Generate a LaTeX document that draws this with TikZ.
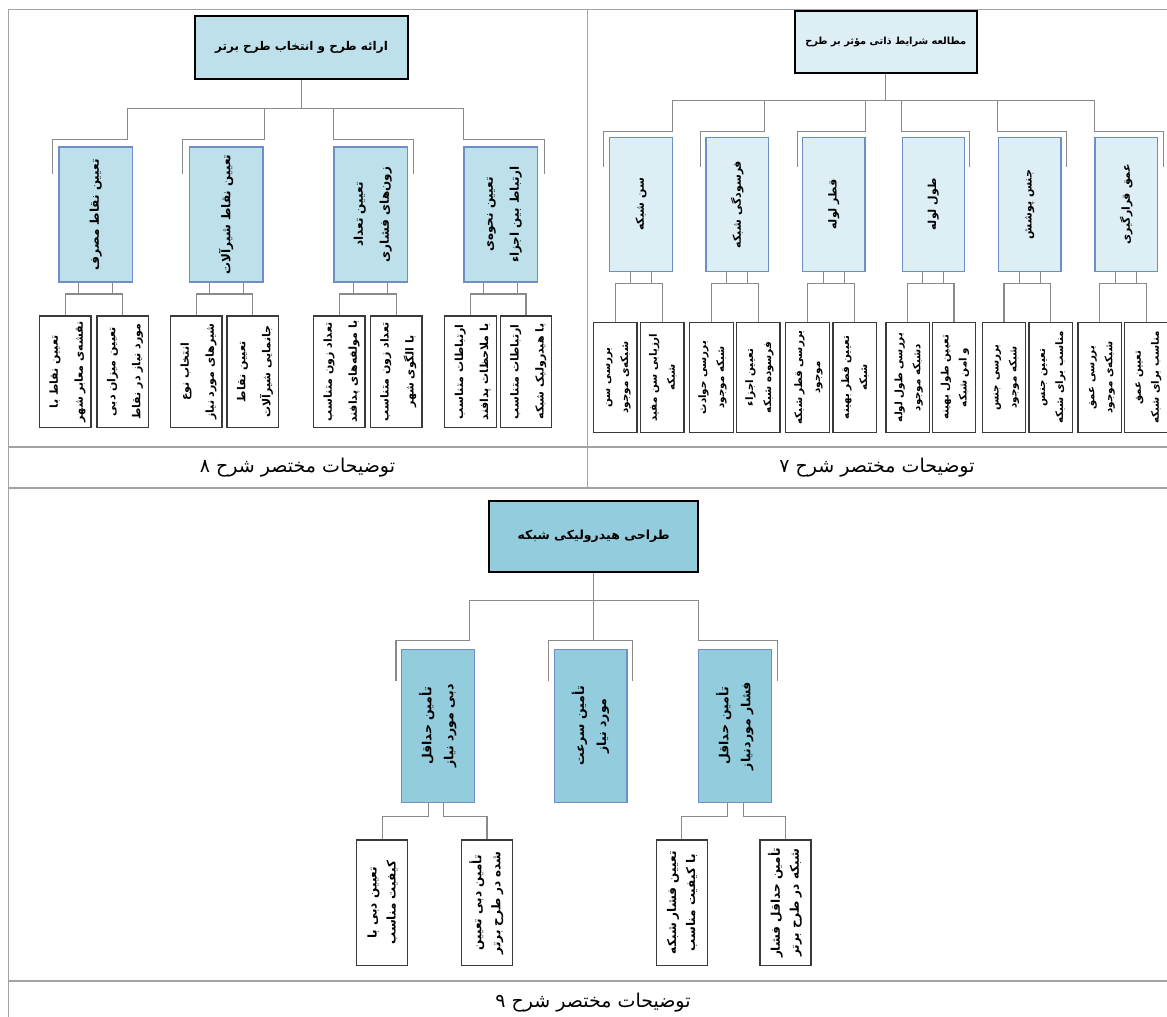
\documentclass[tikz,border=0pt]{standalone}
\usepackage{fontspec}
\usepackage{graphicx}
\usetikzlibrary{calc}
\newfontfamily\arabicfont[Script=Arabic]{DejaVu Sans}
\TeXXeTstate=1
\definecolor{gridgray}{HTML}{A3A3A3}
\definecolor{linkgray}{HTML}{8A8A8A}
\definecolor{paleblue}{HTML}{BEE0EA}
\definecolor{iceblue}{HTML}{DDEEF5}
\definecolor{seablue}{HTML}{93CDDD}
\definecolor{edgeblue}{HTML}{6D8FC2}
\definecolor{leafedge}{HTML}{3A3A3A}
\newcommand{\vone}[1]{\rotatebox{90}{#1}}
\newcommand{\vtwo}[2]{\rotatebox{90}{\begin{tabular}{@{}c@{}}#1\\#2\end{tabular}}}

\begin{document}
\begin{tikzpicture}[x=1pt,y=-1pt,
    rule/.style={draw=gridgray,line width=1.3pt},
    link/.style={draw=linkgray,line width=1.1pt},
    head/.style={draw=black,line width=2pt,inner sep=0pt},
    part/.style={draw=edgeblue,line width=1.3pt,inner sep=0pt},
    item/.style={draw=leafedge,line width=1.4pt,fill=white,inner sep=0pt},
    part8/.style={part,fill=paleblue,minimum width=73.5pt,minimum height=135pt,font=\arabicfont\bfseries\fontsize{12}{26}\selectfont},
    item8/.style={item,minimum width=51.5pt,minimum height=111.3pt,font=\arabicfont\bfseries\fontsize{11}{25}\selectfont},
    part7/.style={part,fill=iceblue,minimum width=62.5pt,minimum height=134.4pt,font=\arabicfont\bfseries\fontsize{11}{20}\selectfont},
    item7/.style={item,minimum width=43.5pt,minimum height=109.6pt,font=\arabicfont\bfseries\fontsize{10.3}{18}\selectfont},
    part9/.style={part,fill=seablue,minimum width=72.5pt,minimum height=153.4pt,font=\arabicfont\bfseries\fontsize{12.5}{22}\selectfont},
    item9/.style={item,minimum width=51pt,minimum height=125.7pt,font=\arabicfont\bfseries\fontsize{12}{19}\selectfont},
    note/.style={font=\arabicfont\fontsize{19}{22}\selectfont}]
  \useasboundingbox (0,0) rectangle (1167,1017);

  \draw[rule] (1167,9.3) -- (8.3,9.3) -- (8.3,1017);
  \draw[rule] (587.7,9.3) -- (587.7,488);
  \foreach \y in {447,488,981}
    \draw[rule] (8.3,\y) -- (1167,\y);

  % sharh 8
  \node[head,fill=paleblue,minimum width=213pt,minimum height=63.6pt,
        font=\arabicfont\bfseries\fontsize{12}{14}\selectfont] (r8) at (301.5,47.5) {\beginR ارائه طرح و انتخاب طرح برتر\endR};
  \node[part8] (a1) at (95.75,214.5) {\vone{\beginR تعیین نقاط مصرف\endR}};
  \node[part8] (a2) at (226.2,214.5) {\vone{\beginR تعیین نقاط شیرآلات\endR}};
  \node[part8] (a3) at (370.7,214.5) {\vtwo{\beginR تعیین تعداد\endR}{\beginR زون‌های فشاری\endR}};
  \node[part8] (a4) at (500.7,214.5) {\vtwo{\beginR تعیین نحوه‌ی\endR}{\beginR ارتباط بین اجزاء\endR}};
  \node[item8] (l1a) at (65.3,371.7) {\vtwo{\beginR تعیین نقاط با\endR}{\beginR نقشه‌ی معابر شهر\endR}};
  \node[item8] (l1b) at (122.9,371.7) {\vtwo{\beginR تعیین میزان دبی\endR}{\beginR مورد نیاز در نقاط\endR}};
  \node[item8] (l2a) at (196.3,371.7) {\vtwo{\beginR انتخاب نوع\endR}{\beginR شیرهای مورد نیاز\endR}};
  \node[item8] (l2b) at (252.8,371.7) {\vtwo{\beginR تعیین نقاط\endR}{\beginR جانمایی شیرآلات\endR}};
  \node[item8] (l3a) at (339.3,371.7) {\vtwo{\beginR تعداد زون متناسب\endR}{\beginR با مولفه‌های پدافند\endR}};
  \node[item8] (l3b) at (396.1,371.7) {\vtwo{\beginR تعداد زون متناسب\endR}{\beginR با الگوی شهر\endR}};
  \node[item8] (l4a) at (470.5,371.7) {\vtwo{\beginR ارتباطات متناسب\endR}{\beginR با ملاحظات پدافند\endR}};
  \node[item8] (l4b) at (526,371.7) {\vtwo{\beginR ارتباطات متناسب\endR}{\beginR با هیدرولیک شبکه\endR}};
  \draw[link] (r8.south) -- ++(0,28) -| ($(a1.north east)+(-6,-7)$) -| ($(a1.north west)+(-6,28)$);
  \draw[link] (r8.south) -- ++(0,28) -| ($(a2.north east)+(1,-7)$) -| ($(a2.north west)+(-6,28)$);
  \draw[link] (r8.south) -- ++(0,28) -| ($(a3.north west)+(0,-7)$) -| ($(a3.north east)+(5,28)$);
  \draw[link] (r8.south) -- ++(0,28) -| ($(a4.north west)+(0,-7)$) -| ($(a4.north east)+(6,28)$);
  \foreach \p in {1,...,4}{
    \draw[link] ($(a\p.south)+(-17,0)$) -- ++(0,11.3);
    \draw[link] ($(a\p.south)+(17,0)$) -- ++(0,11.3);
    \draw[link] (l\p a.north) |- ($(a\p.south)+(0,11.3)$) -| (l\p b.north);
  }
  \node[note] (cap8) at (297.5,468) {\beginR توضیحات مختصر شرح ۸\endR};

  % sharh 7
  \node[head,fill=iceblue,minimum width=181.5pt,minimum height=62pt,
        font=\arabicfont\bfseries\fontsize{9.8}{12}\selectfont] (r7) at (885.75,41.7) {\beginR مطالعه شرایط ذاتی مؤثر بر طرح\endR};
  \node[part7] (b1) at (641,204.5) {\vone{\beginR سن شبکه\endR}};
  \node[part7] (b2) at (737.3,204.5) {\vone{\beginR فرسودگی شبکه\endR}};
  \node[part7] (b3) at (833.7,204.5) {\vone{\beginR قطر لوله\endR}};
  \node[part7] (b4) at (933.4,204.5) {\vone{\beginR طول لوله\endR}};
  \node[part7] (b5) at (1029.8,204.5) {\vone{\beginR جنس پوشش\endR}};
  \node[part7] (b6) at (1126.3,204.5) {\vone{\beginR عمق قرارگیری\endR}};
  \node[item7] (m1a) at (615.4,377.5) {\vtwo{\beginR بررسی سن\endR}{\beginR شبکه‌ی موجود\endR}};
  \node[item7] (m1b) at (662.2,377.5) {\vtwo{\beginR ارزیابی سن مفید\endR}{\beginR شبکه\endR}};
  \node[item7] (m2a) at (711.5,377.5) {\vtwo{\beginR بررسی حوادث\endR}{\beginR شبکه موجود\endR}};
  \node[item7] (m2b) at (758.4,377.5) {\vtwo{\beginR تعیین اجزاء\endR}{\beginR فرسوده شبکه\endR}};
  \node[item7] (m3a) at (807.5,377.5) {\vtwo{\beginR بررسی قطر شبکه\endR}{\beginR موجود\endR}};
  \node[item7] (m3b) at (854.6,377.5) {\vtwo{\beginR تعیین قطر بهینه\endR}{\beginR شبکه\endR}};
  \node[item7] (m4a) at (907.8,377.5) {\vtwo{\beginR بررسی طول لوله\endR}{\beginR دشبکه موجود\endR}};
  \node[item7] (m4b) at (954,377.5) {\vtwo{\beginR تعیین طول بهینه\endR}{\beginR و امن شبکه\endR}};
  \node[item7] (m5a) at (1004,377.5) {\vtwo{\beginR بررسی جنس\endR}{\beginR شبکه موجود\endR}};
  \node[item7] (m5b) at (1050.6,377.5) {\vtwo{\beginR تعیین جنس\endR}{\beginR مناسب برای شبکه\endR}};
  \node[item7] (m6a) at (1099.8,377.5) {\vtwo{\beginR بررسی عمق\endR}{\beginR شبکه‌ی موجود\endR}};
  \node[item7] (m6b) at (1146.3,377.5) {\vtwo{\beginR تعیین عمق\endR}{\beginR مناسب برای شبکه\endR}};
  \foreach \c/\dx/\tx in {1/0/-5.5,2/-5/-4.5,3/0/-4.4}
    \draw[link] (r7.south) -- ++(0,26.6) -| ($(b\c.north east)+(\dx,-5.6)$) -| ($(b\c.north west)+(\tx,30)$);
  \foreach \c/\tx in {4/4.3,5/4.5,6/5.5}
    \draw[link] (r7.south) -- ++(0,26.6) -| ($(b\c.north west)+(0,-5.6)$) -| ($(b\c.north east)+(\tx,30)$);
  \foreach \p in {1,...,6}{
    \draw[link] ($(b\p.south)+(-10.5,0)$) -- ++(0,11);
    \draw[link] ($(b\p.south)+(10.5,0)$) -- ++(0,11);
    \draw[link] (m\p a.north) |- ($(b\p.south)+(0,11)$) -| (m\p b.north);
  }
  \node[note] (cap7) at (877,468) {\beginR توضیحات مختصر شرح ۷\endR};

  % sharh 9
  \node[head,fill=seablue,minimum width=209.3pt,minimum height=71.3pt,
        font=\arabicfont\bfseries\fontsize{12.5}{15}\selectfont] (r9) at (593.7,536.7) {\beginR طراحی هیدرولیکی شبکه\endR};
  \node[part9] (d1) at (437.9,726) {\vtwo{\beginR تأمین حداقل\endR}{\beginR دبی مورد نیاز\endR}};
  \node[part9] (d2) at (590.8,726) {\vtwo{\beginR تأمین سرعت\endR}{\beginR مورد نیاز\endR}};
  \node[part9] (d3) at (735,726) {\vtwo{\beginR تأمین حداقل\endR}{\beginR فشار موردنیاز\endR}};
  \node[item9] (e1a) at (382.2,902.8) {\vtwo{\beginR تعیین دبی با\endR}{\beginR کیفیت مناسب\endR}};
  \node[item9] (e1b) at (487,902.8) {\vtwo{\beginR تأمین دبی تعیین\endR}{\beginR شده در طرح برتر\endR}};
  \node[item9] (e3a) at (681.7,902.8) {\vtwo{\beginR تعیین فشار شبکه\endR}{\beginR با کیفیت مناسب\endR}};
  \node[item9] (e3b) at (785.5,902.8) {\vtwo{\beginR تأمین حداقل فشار\endR}{\beginR شبکه در طرح برتر\endR}};
  \draw[link] (r9.south) -- ++(0,26.7) -| ($(d1.north east)+(-5.7,-8.6)$) -| ($(d1.north west)+(-5,32.4)$);
  \draw[link] (r9.south) -- ++(0,26.7) -| ($(d3.north west)+(0,-8.6)$) -| ($(d3.north east)+(5.7,32.4)$);
  \draw[link] (r9.south) -- ($(r9.south |- d2.north)+(0,-8.6)$);
  \draw[link] ($(d2.north west)+(-5,32.4)$) |- ($(d2.north east)+(5,-8.6)$) -- ++(0,41);
  \draw[link] ($(d1.south)+(-9.6,0)$) -- ++(0,13) -| (e1a.north);
  \draw[link] ($(d1.south)+(6,0)$) -- ++(0,13) -| (e1b.north);
  \draw[link] ($(d3.south)+(-7.7,0)$) -- ++(0,13) -| (e3a.north);
  \draw[link] ($(d3.south)+(8.3,0)$) -- ++(0,13) -| (e3b.north);
  \node[note] (cap9) at (593,1003) {\beginR توضیحات مختصر شرح ۹\endR};
\end{tikzpicture}
\end{document}
